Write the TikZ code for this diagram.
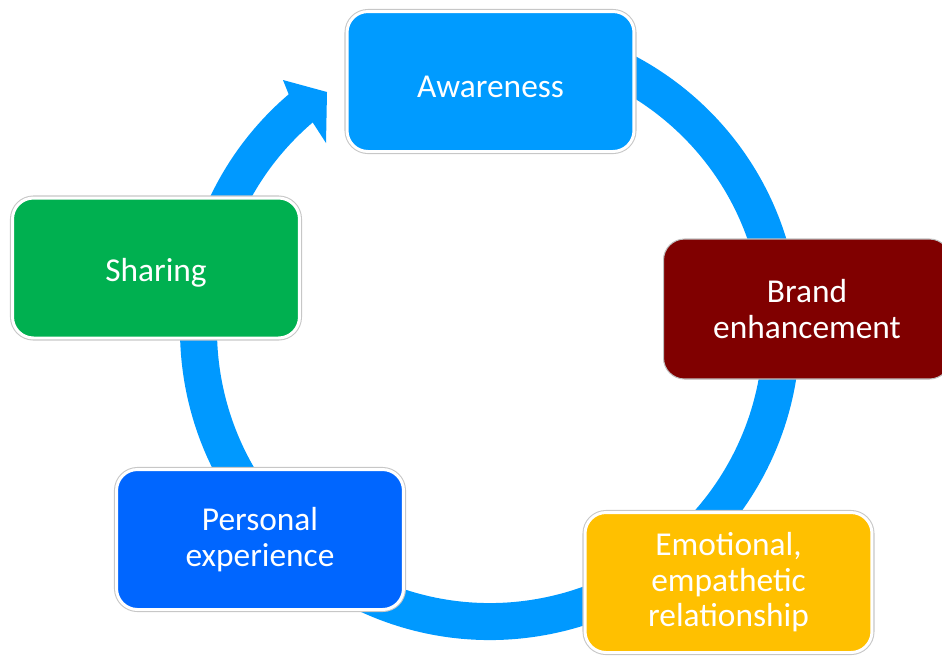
\documentclass[tikz,border=0pt]{standalone}
\usepackage{fontspec}
\setmainfont{Carlito}
\usetikzlibrary{calc}
\definecolor{ringblue}{RGB}{0,153,255}
\definecolor{awblue}{RGB}{0,155,255}
\definecolor{brandred}{RGB}{128,0,0}
\definecolor{emogold}{RGB}{255,192,0}
\definecolor{perblue}{RGB}{0,102,255}
\definecolor{shgreen}{RGB}{0,176,80}
\begin{document}
\begin{tikzpicture}[x=0.02cm,y=-0.02cm]
\useasboundingbox (0,0) rectangle (942,657);
\clip (0,0) rectangle (942,657);
\tikzset{
  boxbase/.style={rounded corners=0.42cm, minimum width=5.74cm, minimum height=2.8cm,
    inner sep=0pt, text=white, font=\fontsize{19}{20.2}\selectfont, align=center,
    execute at begin node={\rule{0pt}{18.5pt}}},
  lowtext/.style={execute at begin node={\rule{0pt}{22.5pt}}},
  box/.style={boxbase, draw=white, line width=1.7pt,
    preaction={draw=black!22, line width=2.9pt}},
  plainbox/.style={boxbase, draw=black!25, line width=0.6pt},
  ring/.style={draw=ringblue, line width=0.74cm},
}
% ring (visual clockwise), centre (490,330)
\coordinate (c) at (490,330);
\draw[ring] (c) ++(-100:291.5) arc[start angle=-100, end angle=229.8, radius=291.5];
\coordinate (ro) at ($(c)+(229.5:310)$);
\coordinate (ri) at ($(c)+(229.5:273)$);
\coordinate (tipa) at (283,80);
\coordinate (tipb) at (327,92);
\coordinate (tipc) at (326,143);
\fill[ringblue] (ro) -- (tipa) -- (tipb) -- (tipc) -- (ri) -- cycle;
% boxes
\node[box, fill=awblue] (aw) at (490.5,81.5) {Awareness};
\node[plainbox, fill=brandred] (br) at (807,309) {Brand\\enhancement};
\node[box, lowtext, fill=emogold] (em) at (728.5,582.5) {Emotional,\\empathetic\\relationship};
\node[box, lowtext, fill=perblue] (pe) at (260,539.5) {Personal\\experience};
\node[box, fill=shgreen] (sh) at (156,268) {Sharing};
\end{tikzpicture}
\end{document}
